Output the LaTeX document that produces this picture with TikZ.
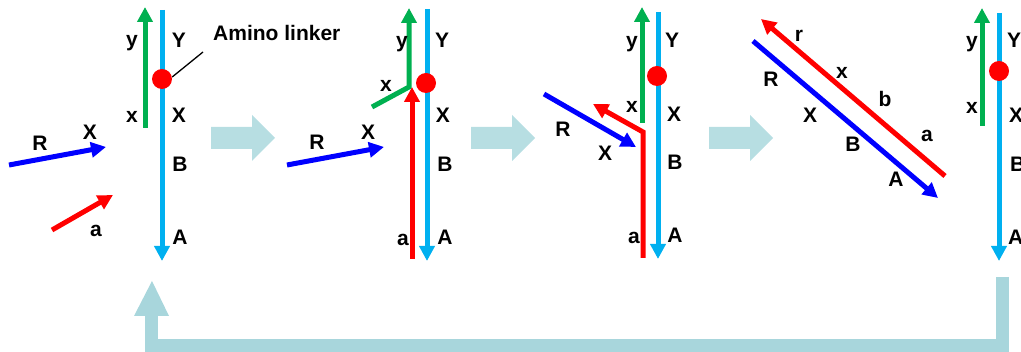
\documentclass[tikz,border=0pt]{standalone}
\usepackage{fontspec}
\setmainfont{Liberation Sans}
\usetikzlibrary{arrows.meta}
\definecolor{strandB}{RGB}{0,176,240}
\definecolor{strandG}{RGB}{0,176,80}
\definecolor{strandR}{RGB}{255,0,0}
\definecolor{strandD}{RGB}{0,0,255}
\definecolor{flowT}{RGB}{168,214,220}
\definecolor{flowL}{RGB}{183,222,226}
\tikzset{
  strand/.style={line width=5pt,-{Triangle[length=15pt,width=15pt]}},
  plainstrand/.style={line width=5pt},
  lbl/.style={font=\fontsize{21}{25}\selectfont\bfseries, inner sep=0pt, anchor=base},
  linker/.style={circle, fill=strandR, minimum size=20pt, inner sep=0pt},
}
\begin{document}
\begin{tikzpicture}[x=1pt,y=-1pt]
\useasboundingbox (0,0) rectangle (1021,352);
\begin{scope}
\clip (0,0) rectangle (1021,352);

% ---------- block arrows between panels ----------
\foreach \s in {211,471,709}{
  \fill[flowL] (\s,127) -- (\s+41,127) -- (\s+41,115) -- (\s+64,138) -- (\s+41,161) -- (\s+41,149) -- (\s,149) -- cycle;
}

% ---------- feedback arrow ----------
\coordinate (fbA) at (1002.5,277);
\coordinate (fbB) at (1002.5,346);
\coordinate (fbC) at (151.5,346);
\coordinate (fbD) at (151.5,312);
\draw[flowT, line width=13pt] (fbA) -- (fbB) -- (fbC) -- (fbD);
\fill[flowT] (134,316) -- (152,281) -- (169,316) -- cycle;

% ---------- panel 1 ----------
\coordinate (p1Bt) at (162,10);  \coordinate (p1Bb) at (162,261);
\coordinate (p1Gb) at (145,128); \coordinate (p1Gt) at (145,7);
\coordinate (p1Rs) at (9,165);   \coordinate (p1Re) at (106,147);
\coordinate (p1as) at (52,230);  \coordinate (p1ae) at (113,195);
\draw[strand, strandB] (p1Bt) -- (p1Bb);
\draw[strand, strandG] (p1Gb) -- (p1Gt);
\draw[strand, strandD] (p1Rs) -- (p1Re);
\draw[strand, strandR] (p1as) -- (p1ae);
\node[linker] (dot1) at (162,79) {};
\coordinate (lnk) at (203,52);
\draw[black, line width=1.3pt] (dot1.east) ++(0,-2) -- (lnk);
\node[lbl, anchor=base west] (amino) at (213,41) {Amino linker};
\node[lbl] (p1y) at (132,47) {y};
\node[lbl] (p1Y) at (179,48) {Y};
\node[lbl] (p1x) at (132,123) {x};
\node[lbl] (p1X) at (179,123) {X};
\node[lbl] (p1B) at (180,172) {B};
\node[lbl] (p1A) at (180,245) {A};
\node[lbl] (p1R) at (40,151) {R};
\node[lbl] (p1X2) at (90,140) {X};
\node[lbl] (p1a) at (96,237) {a};

% ---------- panel 2 ----------
\coordinate (p2Bt) at (427,9);   \coordinate (p2Bb) at (427,261);
\coordinate (p2Gs) at (372,107); \coordinate (p2Gk) at (409,87); \coordinate (p2Gt) at (409,8);
\coordinate (p2rb) at (412,259); \coordinate (p2rt) at (412,87);
\coordinate (p2Rs) at (287,165); \coordinate (p2Re) at (384,147);
\draw[strand, strandB] (p2Bt) -- (p2Bb);
\draw[strand, strandG] (p2Gs) -- (p2Gk) -- (p2Gt);
\draw[strand, strandR] (p2rb) -- (p2rt);
\draw[strand, strandD] (p2Rs) -- (p2Re);
\node[linker] (dot2) at (426,83) {};
\node[lbl] (p2y) at (402,48) {y};
\node[lbl] (p2Y) at (442,48) {Y};
\node[lbl] (p2x) at (386,92) {x};
\node[lbl] (p2X) at (443,123) {X};
\node[lbl] (p2B) at (445,172) {B};
\node[lbl] (p2A) at (445,245) {A};
\node[lbl] (p2a) at (403,246) {a};
\node[lbl] (p2R) at (317,150) {R};
\node[lbl] (p2X2) at (368,140) {X};

% ---------- panel 3 ----------
\coordinate (p3Bt) at (658,12);  \coordinate (p3Bb) at (658,259);
\coordinate (p3Gb) at (642,123); \coordinate (p3Gt) at (642,7);
\coordinate (p3rb) at (643,258); \coordinate (p3rk) at (643,132); \coordinate (p3rt) at (593,104);
\coordinate (p3Rs) at (544,94);  \coordinate (p3Re) at (636,147);
\draw[strand, strandB] (p3Bt) -- (p3Bb);
\draw[strand, strandG] (p3Gb) -- (p3Gt);
\draw[strand, strandR] (p3rb) -- (p3rk) -- (p3rt);
\draw[strand, strandD] (p3Rs) -- (p3Re);
\node[linker] (dot3) at (657,76) {};
\node[lbl] (p3y) at (632,48) {y};
\node[lbl] (p3Y) at (672,48) {Y};
\node[lbl] (p3x) at (632,113) {x};
\node[lbl] (p3X) at (674,122) {X};
\node[lbl] (p3B) at (675,170) {B};
\node[lbl] (p3A) at (675,243) {A};
\node[lbl] (p3a) at (634,244) {a};
\node[lbl] (p3R) at (563,137) {R};
\node[lbl] (p3X2) at (605,161) {X};

% ---------- panel 4 ----------
\coordinate (p4rs) at (945,176); \coordinate (p4re) at (761,19);
\coordinate (p4Rs) at (753,41);  \coordinate (p4Re) at (938,198);
\draw[strand, strandR] (p4rs) -- (p4re);
\draw[strand, strandD] (p4Rs) -- (p4Re);
\node[lbl] (p4r) at (799,42) {r};
\node[lbl] (p4x) at (842,79) {x};
\node[lbl] (p4b) at (885,107) {b};
\node[lbl] (p4a) at (927,142) {a};
\node[lbl] (p4R) at (771,87) {R};
\node[lbl] (p4X) at (810,123) {X};
\node[lbl] (p4B) at (853,152) {B};
\node[lbl] (p4A) at (896,187) {A};

% ---------- panel 5 ----------
\coordinate (p5Bt) at (999,13);  \coordinate (p5Bb) at (999,261);
\coordinate (p5Gb) at (982,126); \coordinate (p5Gt) at (982,8);
\draw[strand, strandB] (p5Bt) -- (p5Bb);
\draw[strand, strandG] (p5Gb) -- (p5Gt);
\node[linker] (dot5) at (999,71) {};
\node[lbl] (p5y) at (972,48) {y};
\node[lbl, anchor=base west] (p5Y) at (1007,48) {Y};
\node[lbl] (p5x) at (972,114) {x};
\node[lbl, anchor=base west] (p5X) at (1009,123) {X};
\node[lbl, anchor=base west] (p5B) at (1010,172) {B};
\node[lbl, anchor=base west] (p5A) at (1008,245) {A};
\end{scope}
\end{tikzpicture}
\end{document}
